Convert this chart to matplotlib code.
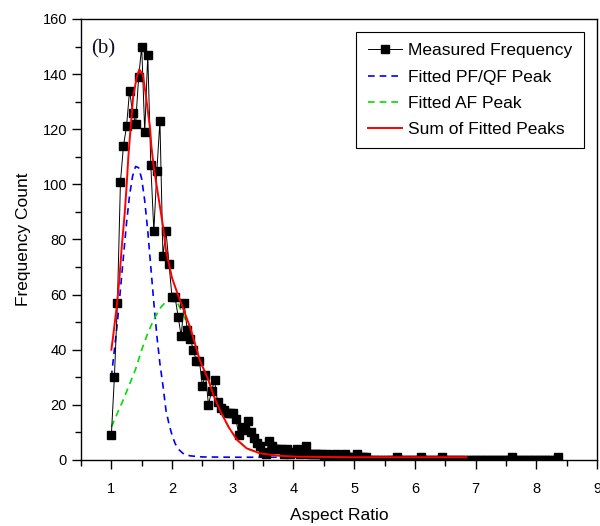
import numpy as np
import matplotlib
matplotlib.use("Agg")
import matplotlib.pyplot as plt

plt.rcParams['font.family'] = ['Liberation Sans', 'DejaVu Sans']

# ---- Measured frequency (bin centre, count) ----
aspect_ratio = [
    1.00, 1.05, 1.10, 1.15, 1.20, 1.25, 1.30, 1.35, 1.40, 1.45,
    1.50, 1.55, 1.60, 1.65, 1.70, 1.75, 1.80, 1.85, 1.90, 1.95,
    2.00, 2.05, 2.10, 2.15, 2.20, 2.25, 2.30, 2.35, 2.40, 2.45,
    2.50, 2.55, 2.60, 2.65, 2.70, 2.75, 2.80, 2.85, 2.90, 2.95,
    3.00, 3.05, 3.10, 3.15, 3.20, 3.25, 3.30, 3.35, 3.40, 3.45,
    3.50, 3.55, 3.60, 3.65, 3.70, 3.75, 3.80, 3.85, 3.90, 3.95,
    4.00, 4.05, 4.10, 4.15, 4.20, 4.25, 4.30, 4.35, 4.40, 4.45,
    4.50, 4.55, 4.60, 4.65, 4.70, 4.75, 4.80, 4.85, 4.90, 4.95,
    5.00, 5.05, 5.10, 5.15, 5.20, 5.25, 5.30, 5.35, 5.40, 5.45,
    5.50, 5.55, 5.60, 5.65, 5.70, 5.75, 5.80, 5.85, 5.90, 5.95,
    6.00, 6.05, 6.10, 6.15, 6.20, 6.25, 6.30, 6.35, 6.40, 6.45,
    6.50, 6.55, 6.60, 6.65, 6.70, 6.75, 6.80, 6.85, 6.90, 6.95,
    7.00, 7.05, 7.10, 7.15, 7.20, 7.25, 7.30, 7.35, 7.40, 7.45,
    7.50, 7.55, 7.60, 7.65, 7.70, 7.75, 7.80, 7.85, 7.90, 7.95,
    8.00, 8.05, 8.10, 8.15, 8.20, 8.25, 8.30, 8.35,
]
frequency = [
    9, 30, 57, 101, 114, 121, 134, 126, 122, 139,
    150, 119, 147, 107, 83, 105, 123, 74, 83, 71,
    59, 59, 52, 45, 57, 47, 44, 40, 36, 36,
    27, 31, 20, 25, 29, 21, 19, 18, 17, 17,
    17, 15, 9, 12, 11, 14, 10, 8, 6, 5,
    3, 2, 7, 5, 4, 4, 4, 2, 4, 2,
    3, 4, 2, 3, 5, 2, 2, 2, 2, 2,
    1, 2, 1, 1, 2, 1, 1, 2, 1, 1,
    1, 2, 1, 1, 1, 0, 0, 0, 0, 0,
    0, 0, 0, 0, 1, 0, 0, 0, 0, 0,
    0, 0, 1, 0, 0, 0, 0, 0, 0, 1,
    0, 0, 0, 0, 0, 0, 0, 0, 0, 0,
    0, 0, 0, 0, 0, 0, 0, 0, 0, 0,
    0, 0, 1, 0, 0, 0, 0, 0, 0, 0,
    0, 0, 0, 0, 0, 0, 0, 1,
]

# ---- Fitted PF/QF peak ----
pfqf_x = [1.00, 1.05, 1.10, 1.15, 1.20, 1.25, 1.30, 1.35, 1.40, 1.45,
          1.50, 1.55, 1.60, 1.65, 1.70, 1.75, 1.80, 1.85, 1.90, 1.95,
          2.00, 2.05, 2.10, 2.20, 2.30, 2.50, 3.00, 6.85]
pfqf_y = [30, 40, 50, 62, 74, 86, 96, 103, 106.5, 106,
          102, 94, 83, 70, 57, 45, 35, 27, 18, 13,
          9, 6, 4, 2, 1.5, 1.1, 1.0, 1.0]

# ---- Fitted AF peak ----
af_x = [1.00, 1.10, 1.20, 1.30, 1.40, 1.50, 1.60, 1.70, 1.80, 1.90,
        2.00, 2.10, 2.20, 2.30, 2.46, 2.60, 2.68, 2.79, 2.93, 3.07,
        3.23, 3.45, 3.72, 4.05, 5.00, 6.85]
af_y = [12, 17, 22, 27.5, 33, 40, 46, 51, 55, 57.5,
        58.5, 56.5, 52, 47, 36, 29, 23.6, 18, 12, 7.3,
        4.2, 2.4, 1.6, 1.2, 1.0, 1.0]

# ---- Sum of fitted peaks ----
sum_x = [1.00, 1.03, 1.09, 1.13, 1.17, 1.22, 1.25, 1.28, 1.31, 1.36,
         1.42, 1.46, 1.52, 1.57, 1.64, 1.66, 1.70, 1.75, 1.80, 1.86,
         1.90, 1.95, 2.00, 2.08, 2.19, 2.30, 2.46, 2.60, 2.68, 2.79,
         2.93, 3.07, 3.23, 3.45, 3.72, 4.05, 5.00, 6.85]
sum_y = [40, 45, 56, 65, 77, 89.5, 99, 110, 118.5, 132,
         139, 141.7, 139.7, 132, 119.7, 113.7, 106, 99, 92, 83.5,
         76, 71, 66, 61, 54.5, 48, 36, 29, 23.6, 18,
         12, 7.3, 4.2, 2.4, 1.6, 1.2, 1.0, 1.0]

x_ticks = [1, 2, 3, 4, 5, 6, 7, 8, 9]
y_ticks = [0, 20, 40, 60, 80, 100, 120, 140, 160]

fig = plt.figure(figsize=(6.0, 5.26), dpi=100)
ax = fig.add_axes([0.135, 0.1255, 0.860, 0.8385])

ax.plot(aspect_ratio, frequency, color='black', lw=0.7, marker='s',
        markersize=5.8, markerfacecolor='black', markeredgecolor='black',
        label='Measured Frequency', zorder=3)
ax.plot(pfqf_x, pfqf_y, color='#0000ff', lw=1.2, dashes=(4, 3),
        label='Fitted PF/QF Peak', zorder=2)
ax.plot(af_x, af_y, color='#00dd00', lw=1.2, dashes=(4, 3),
        label='Fitted AF Peak', zorder=2)
ax.plot(sum_x, sum_y, color='#ff0000', lw=1.4,
        label='Sum of Fitted Peaks', zorder=4)

ax.set_xlim(0.5, 9)
ax.set_ylim(0, 160)
ax.set_xticks(x_ticks)
ax.set_yticks(y_ticks)
ax.set_xticks(np.arange(0.5, 9.01, 0.5), minor=True)
ax.set_yticks(np.arange(0, 161, 10), minor=True)
ax.tick_params(which='major', direction='out', length=6.5, width=1.0,
               labelsize=10.5, top=False, right=False)
ax.tick_params(axis='x', which='major', pad=9)
ax.tick_params(axis='y', which='major', pad=3.5)
ax.tick_params(which='minor', direction='out', length=4, width=1.0,
               top=False, right=False)
for s in ax.spines.values():
    s.set_linewidth(1.0)

ax.set_xlabel('Aspect Ratio', fontsize=12.5, labelpad=9)
ax.set_ylabel('Frequency Count', fontsize=12.5, labelpad=8)

ax.text(0.02, 0.955, '(b)', transform=ax.transAxes, fontsize=15,
        family='Liberation Serif', va='top', ha='left', color='#111122')

leg = ax.legend(loc='upper right', fontsize=12.5, frameon=True, fancybox=False,
                edgecolor='black', framealpha=1, borderaxespad=0.75,
                handlelength=2.0, handletextpad=0.35, labelspacing=0.64,
                borderpad=0.65)
leg.get_frame().set_linewidth(0.8)

fig.savefig('out.png', dpi=100)
